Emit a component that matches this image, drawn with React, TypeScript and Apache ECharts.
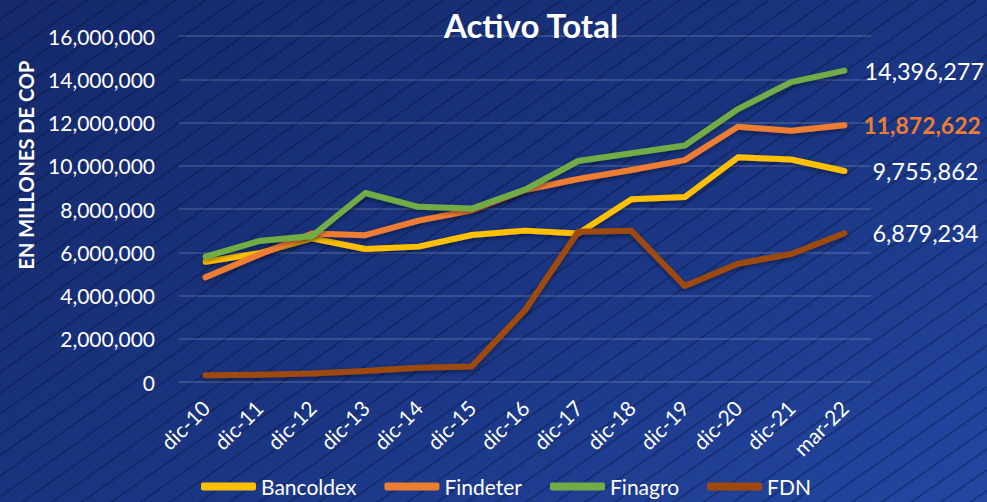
import React, { useEffect, useRef } from "react";
import * as echarts from "echarts";

const categories = ["dic-10", "dic-11", "dic-12", "dic-13", "dic-14", "dic-15", "dic-16", "dic-17", "dic-18", "dic-19", "dic-20", "dic-21", "mar-22"];
const bancoldex = [5560000, 5950000, 6650000, 6150000, 6260000, 6800000, 7000000, 6870000, 8450000, 8550000, 10390000, 10290000, 9755862];
const findeter = [4840000, 5880000, 6870000, 6790000, 7460000, 7940000, 8880000, 9390000, 9800000, 10260000, 11800000, 11620000, 11872622];
const finagro = [5800000, 6520000, 6750000, 8740000, 8100000, 8020000, 8900000, 10220000, 10580000, 10940000, 12620000, 13870000, 14396277];
const fdn = [310000, 340000, 390000, 510000, 660000, 720000, 3320000, 6950000, 6990000, 4440000, 5470000, 5920000, 6879234];
const seriesNames = ["Bancoldex", "Findeter", "Finagro", "FDN"];
const yTicks = { min: 0, max: 16000000, interval: 2000000 };

const FONT = "Lato, 'Open Sans', sans-serif";

export default function App() {
  const ref = useRef<HTMLDivElement>(null);
  useEffect(() => {
    if (!ref.current) return;
    const chart = echarts.init(ref.current, undefined, { renderer: "svg" });
    const fmt = (v: number) => Math.round(v).toLocaleString("en-US");
    const mk = (name: string, data: number[], color: string, label: any) => ({
      name,
      type: "line",
      data,
      showSymbol: false,
      symbol: "none",
      itemStyle: { color },
      lineStyle: {
        color,
        width: 6,
        cap: "round",
        join: "round",
        shadowColor: "rgba(0,0,20,0.45)",
        shadowBlur: 4,
        shadowOffsetY: 2,
      },
      endLabel: {
        show: true,
        formatter: (p: any) => fmt(p.value),
        fontFamily: FONT,
        fontSize: 23.5,
        color: "#ffffff",
        ...label,
      },
    });
    chart.setOption({
      animation: false,
      backgroundColor: "transparent",
      title: {
        text: "Activo Total",
        left: 526,
        textAlign: "center",
        top: 3,
        textStyle: { color: "#ffffff", fontFamily: FONT, fontWeight: "bold", fontSize: 33 },
      },
      grid: { left: 179, right: 116, top: 36, bottom: 120 },
      legend: {
        left: 196,
        bottom: 0,
        icon: "roundRect",
        itemWidth: 55,
        itemHeight: 8,
        itemGap: 28,
        textStyle: { color: "#ffffff", fontFamily: FONT, fontSize: 21 },
        data: seriesNames,
      },
      xAxis: {
        type: "category",
        data: categories,
        boundaryGap: true,
        axisLine: { show: false },
        axisTick: { show: false },
        axisLabel: { color: "#ffffff", fontFamily: FONT, fontSize: 21, rotate: 45, margin: 22, interval: 0 },
      },
      yAxis: {
        type: "value",
        min: yTicks.min,
        max: yTicks.max,
        interval: yTicks.interval,
        axisLine: { show: false },
        axisTick: { show: false },
        splitLine: { lineStyle: { color: "rgba(255,255,255,0.18)", width: 1.5 } },
        axisLabel: { color: "#ffffff", fontFamily: FONT, fontSize: 21, margin: 24, formatter: (v: number) => fmt(v) },
      },
      graphic: [
        {
          type: "text",
          x: 26,
          y: 165,
          rotation: Math.PI / 2,
          style: {
            text: "EN MILLONES DE COP",
            fill: "#ffffff",
            font: `bold 20px ${FONT}`,
            textAlign: "center",
            textVerticalAlign: "middle",
          },
        },
      ],
      series: [
        mk(seriesNames[0], bancoldex, "#FFC000", { distance: 28 }),
        mk(seriesNames[1], findeter, "#ED7D31", { distance: 19, color: "#ED7D31", fontWeight: "bold", fontSize: 23 }),
        mk(seriesNames[2], finagro, "#70AD47", { distance: 20 }),
        mk(seriesNames[3], fdn, "#9E480E", { distance: 28 }),
      ],
    });
    return () => chart.dispose();
  }, []);
  return (
    <div
      style={{
        position: "fixed",
        left: 0,
        top: 0,
        width: 987,
        height: 502,
        background:
          "repeating-linear-gradient(145deg, rgba(255,255,255,0) 0px, rgba(255,255,255,0) 15px, rgba(5,15,50,0.3) 15px, rgba(5,15,50,0.3) 17px), linear-gradient(150deg, #15296b 0%, #1a3582 55%, #2447a2 100%)",
      }}
    >
      <div ref={ref} style={{ width: 987, height: 502 }} />
    </div>
  );
}
